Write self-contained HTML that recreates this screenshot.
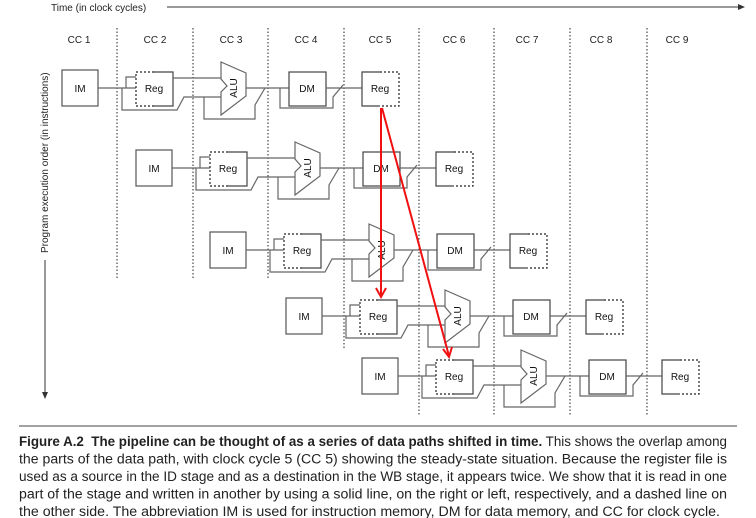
<!DOCTYPE html>
<html><head><meta charset="utf-8"><style>
body{margin:0;background:#fff;width:756px;height:518px;overflow:hidden;font-family:"Liberation Sans",sans-serif}
</style></head><body>
<svg width="756" height="518" style="position:absolute;left:0;top:0" font-family="Liberation Sans, sans-serif">
<defs>
<g id="row" fill="none" stroke="#666" stroke-width="1.2">
 <rect x="0" y="-18" width="36" height="36" stroke="#555"/>
 <text x="18" y="4" font-size="10" text-anchor="middle" fill="#111" stroke="none">IM</text>
 <path d="M36 0H74M64 0V-11H74M60 0V22H115L122 9H159"/>
 <path d="M92 -16H74V18H92" stroke="#222" stroke-dasharray="2,2"/>
 <path d="M92 -16H111V18H92" stroke="#444"/>
 <text x="92" y="4" font-size="10" text-anchor="middle" fill="#111" stroke="none">Reg</text>
 <path d="M111 -10H159"/>
 <path d="M159 -26L184 -15V8L159 27V4L165 -2L159 -9Z" stroke="#666"/>
 <text transform="translate(175,0) rotate(-90)" font-size="10" text-anchor="middle" fill="#111" stroke="none" y="0">ALU</text>
 <path d="M142 9V31H193V17L203 0M184 0H227"/>
 <rect x="227" y="-16" width="37" height="34" stroke="#444"/>
 <text x="245" y="4" font-size="10" text-anchor="middle" fill="#111" stroke="none">DM</text>
 <path d="M218 0V20H271V9L281 -3M264 0H300"/>
 <path d="M318 -16H300V18H318" stroke="#444"/>
 <path d="M318 -16H337V18H318" stroke="#222" stroke-dasharray="2,2"/>
 <text x="318" y="4" font-size="10" text-anchor="middle" fill="#111" stroke="none">Reg</text>
</g>
</defs>
<text x="51" y="11" font-size="10" fill="#222">Time (in clock cycles)</text>
<line x1="167" y1="7" x2="738" y2="7" stroke="#333" stroke-width="1"/>
<path d="M738 4L745 7L738 10Z" fill="#333"/>
<text transform="translate(48,253) rotate(-90)" font-size="10" fill="#222">Program execution order (in instructions)</text>
<line x1="45" y1="260" x2="45" y2="393" stroke="#333"/>
<path d="M42 392L45 399L48 392Z" fill="#333"/>
<g font-size="10" fill="#222" text-anchor="middle">
<text x="79" y="43">CC 1</text><text x="155" y="43">CC 2</text><text x="231" y="43">CC 3</text>
<text x="306" y="43">CC 4</text><text x="380" y="43">CC 5</text><text x="454" y="43">CC 6</text>
<text x="527" y="43">CC 7</text><text x="601" y="43">CC 8</text><text x="677" y="43">CC 9</text>
</g>
<g stroke="#222" stroke-width="1" stroke-dasharray="1.5,2">
<line x1="117" y1="28" x2="117" y2="280"/><line x1="193" y1="28" x2="193" y2="280"/>
<line x1="268" y1="28" x2="268" y2="280"/><line x1="344" y1="28" x2="344" y2="348"/>
<line x1="419" y1="28" x2="419" y2="416"/><line x1="494" y1="28" x2="494" y2="416"/>
<line x1="570" y1="28" x2="570" y2="416"/><line x1="647" y1="28" x2="647" y2="416"/>
</g>
<use href="#row" x="62" y="88"/>
<use href="#row" x="136" y="168"/>
<use href="#row" x="210" y="250"/>
<use href="#row" x="286" y="316"/>
<use href="#row" x="362" y="376"/>
<g stroke="#f01010" stroke-width="2" fill="none">
<line x1="381" y1="108" x2="381" y2="296"/>
<path d="M376 288L381 297L386 288"/>
<line x1="382" y1="108" x2="449" y2="356"/>
<path d="M443 349L449 357L452 347"/>
</g>
<line x1="19" y1="426" x2="737" y2="426" stroke="#444" stroke-width="1"/>
<g font-size="13.5" fill="#222">
<text x="19" y="446" textLength="708" lengthAdjust="spacingAndGlyphs"><tspan font-weight="bold">Figure A.2&#160; The pipeline can be thought of as a series of data paths shifted in time.</tspan> This shows the overlap among</text>
<text x="19" y="463.5" textLength="708" lengthAdjust="spacingAndGlyphs">the parts of the data path, with clock cycle 5 (CC 5) showing the steady-state situation. Because the register file is</text>
<text x="19" y="481" textLength="708" lengthAdjust="spacingAndGlyphs">used as a source in the ID stage and as a destination in the WB stage, it appears twice. We show that it is read in one</text>
<text x="19" y="498.5" textLength="708" lengthAdjust="spacingAndGlyphs">part of the stage and written in another by using a solid line, on the right or left, respectively, and a dashed line on</text>
<text x="19" y="516" textLength="701" lengthAdjust="spacingAndGlyphs">the other side. The abbreviation IM is used for instruction memory, DM for data memory, and CC for clock cycle.</text>
</g>
</svg>
</body></html>
